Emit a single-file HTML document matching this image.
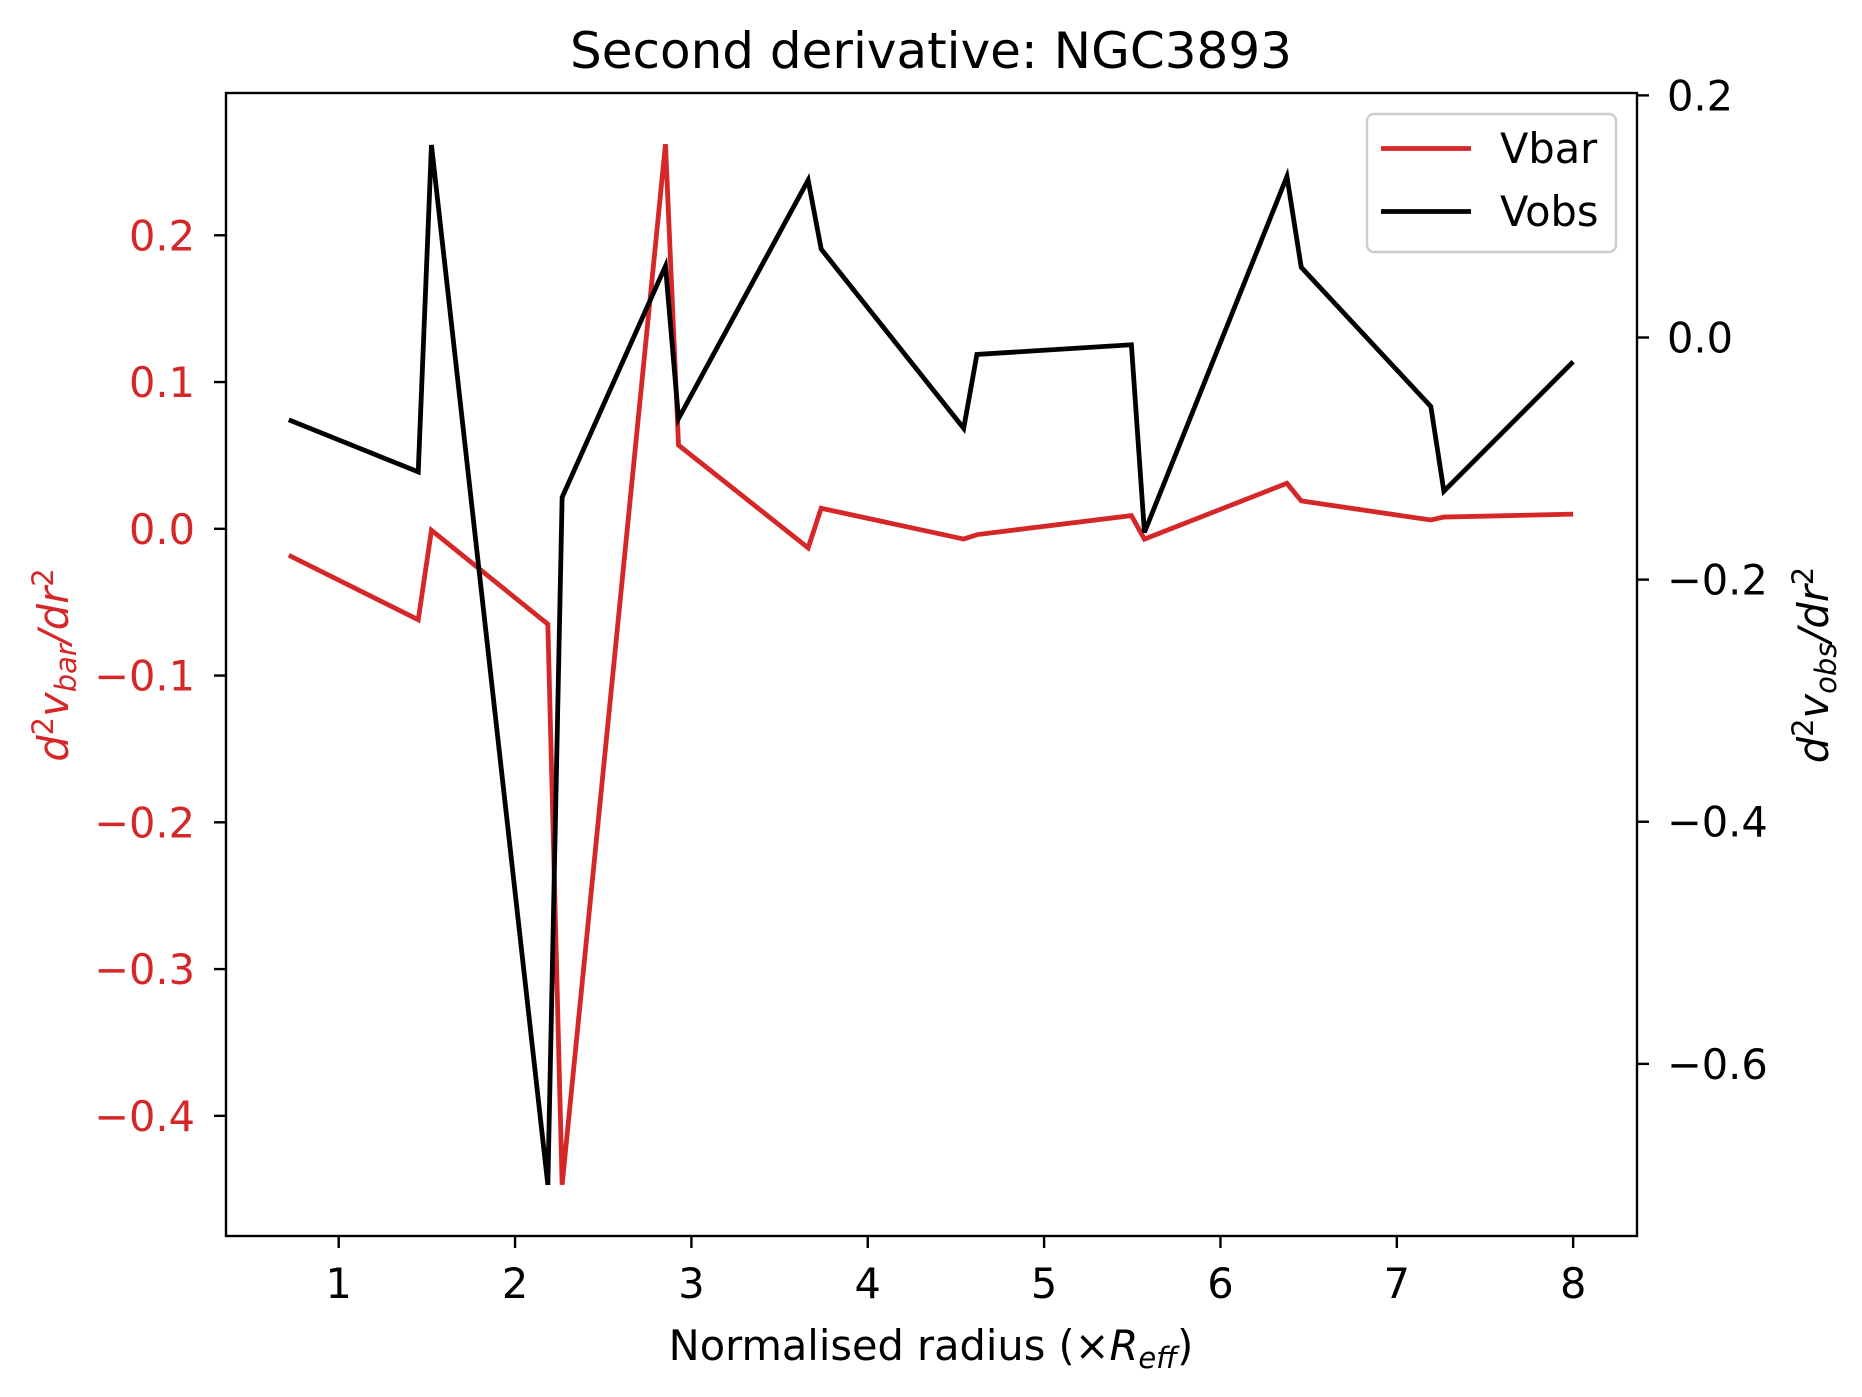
<!DOCTYPE html>
<html><head><meta charset="utf-8"><style>
body{margin:0;background:#fff}
svg{display:block;font-family:"DejaVu Sans","Liberation Sans",sans-serif}
</style></head><body>
<svg id="chart" width="1862" height="1397" viewBox="0 0 1862 1397">
<rect width="1862" height="1397" fill="#fff"/>
<g id="plot"></g>
</svg>
<script>
const radius=[0.717,1.451,1.526,2.186,2.267,2.853,2.927,3.662,3.736,4.544,4.619,5.495,5.569,6.377,6.458,7.193,7.267,8.0];
const vbar=[-0.018,-0.062,-0.001,-0.065,-0.447,0.262,0.057,-0.013,0.014,-0.007,-0.004,0.009,-0.007,0.031,0.019,0.006,0.008,0.010];
const vobs=[-0.068,-0.111,0.159,-0.700,-0.132,0.059,-0.067,0.130,0.073,-0.075,-0.014,-0.006,-0.161,0.133,0.058,-0.057,-0.127,-0.020];
const xTicks=[1,2,3,4,5,6,7,8];
const yLeftTicks=[0.2,0.1,0.0,-0.1,-0.2,-0.3,-0.4];
const yRightTicks=[0.2,0.0,-0.2,-0.4,-0.6];

const L=226,R=1637,T=93,B=1236;
const sx=v=>338.7+(v-1)*176.35;
const syL=v=>528.8-v*1467.6;
const syR=v=>337.5-v*1210.6;
const NS="http://www.w3.org/2000/svg";
const g=document.getElementById('plot');
function mk(tag,attrs,parent){const e=document.createElementNS(NS,tag);for(const k in attrs)e.setAttribute(k,attrs[k]);(parent||g).appendChild(e);return e;}
const fmt=v=>(v<0?'\u2212':'')+Math.abs(v).toFixed(1);

let e=mk('polyline',{points:radius.map((x,i)=>sx(x)+','+syL(vbar[i])).join(' '),fill:'none',stroke:'#d62728','stroke-width':4.8});


e=mk('polyline',{points:radius.map((x,i)=>sx(x)+','+syR(vobs[i])).join(' '),fill:'none',stroke:'#000','stroke-width':4.8});



e=mk('rect',{x:L,y:T,width:R-L,height:B-T,fill:'none',stroke:'#000','stroke-width':2.4});



xTicks.forEach(v=>{
  const x=sx(v);
  let t=mk('line',{x1:x,x2:x,y1:B,y2:B+12,stroke:'#000','stroke-width':2.4});
  
  
  t=mk('text',{x:x,y:1298,'font-size':41.5,'text-anchor':'middle',fill:'#000'});
  t.textContent=v;
  
  
});
yLeftTicks.forEach(v=>{
  const y=syL(v);
  let t=mk('line',{x1:L-12,x2:L,y1:y,y2:y,stroke:'#000','stroke-width':2.4});
  
  
  t=mk('text',{x:195,y:y+15,'font-size':41.5,'text-anchor':'end',fill:'#d62728'});
  t.textContent=fmt(v);
  
  
});
yRightTicks.forEach(v=>{
  const y=syR(v);
  let t=mk('line',{x1:R,x2:R+12,y1:y,y2:y,stroke:'#000','stroke-width':2.4});
  
  
  t=mk('text',{x:1667,y:y+15,'font-size':41.5,'text-anchor':'start',fill:'#000'});
  t.textContent=fmt(v);
  
  
});
</script>
<svg style="position:absolute;left:0;top:0" width="1862" height="1397">
<text x="931" y="68" font-size="50" text-anchor="middle" font-family="DejaVu Sans, Liberation Sans, sans-serif">Second derivative: NGC3893</text>
<text x="931" y="1360" font-size="41.5" text-anchor="middle" font-family="DejaVu Sans, Liberation Sans, sans-serif">Normalised radius (×<tspan font-style="italic">R</tspan><tspan font-style="italic" font-size="29" dy="8">eff</tspan><tspan dy="-8">)</tspan></text>
<text transform="translate(68,665) rotate(-90)" font-size="41.5" text-anchor="middle" fill="#d62728" font-style="italic" font-family="DejaVu Sans, Liberation Sans, sans-serif">d<tspan font-size="29" dy="-15" font-style="normal">2</tspan><tspan dy="15">v</tspan><tspan font-size="29" dy="8">bar</tspan><tspan dy="-8">/dr</tspan><tspan font-size="29" dy="-15" font-style="normal">2</tspan></text>
<text transform="translate(1828,665) rotate(-90)" font-size="41.5" text-anchor="middle" fill="#000" font-style="italic" font-family="DejaVu Sans, Liberation Sans, sans-serif">d<tspan font-size="29" dy="-15" font-style="normal">2</tspan><tspan dy="15">v</tspan><tspan font-size="29" dy="8">obs</tspan><tspan dy="-8">/dr</tspan><tspan font-size="29" dy="-15" font-style="normal">2</tspan></text>
<g>
<rect x="1367" y="114" width="249" height="138" rx="7" fill="#fff" fill-opacity="0.8" stroke="#ccc" stroke-width="2.4"/>
<line x1="1381" x2="1471" y1="148.5" y2="148.5" stroke="#d62728" stroke-width="4.8"/>
<text x="1500" y="163" font-size="41.5" font-family="DejaVu Sans, Liberation Sans, sans-serif">Vbar</text>
<line x1="1381" x2="1471" y1="211.5" y2="211.5" stroke="#000" stroke-width="4.8"/>
<text x="1500" y="226" font-size="41.5" font-family="DejaVu Sans, Liberation Sans, sans-serif">Vobs</text>
</g>
</svg>
</body></html>
